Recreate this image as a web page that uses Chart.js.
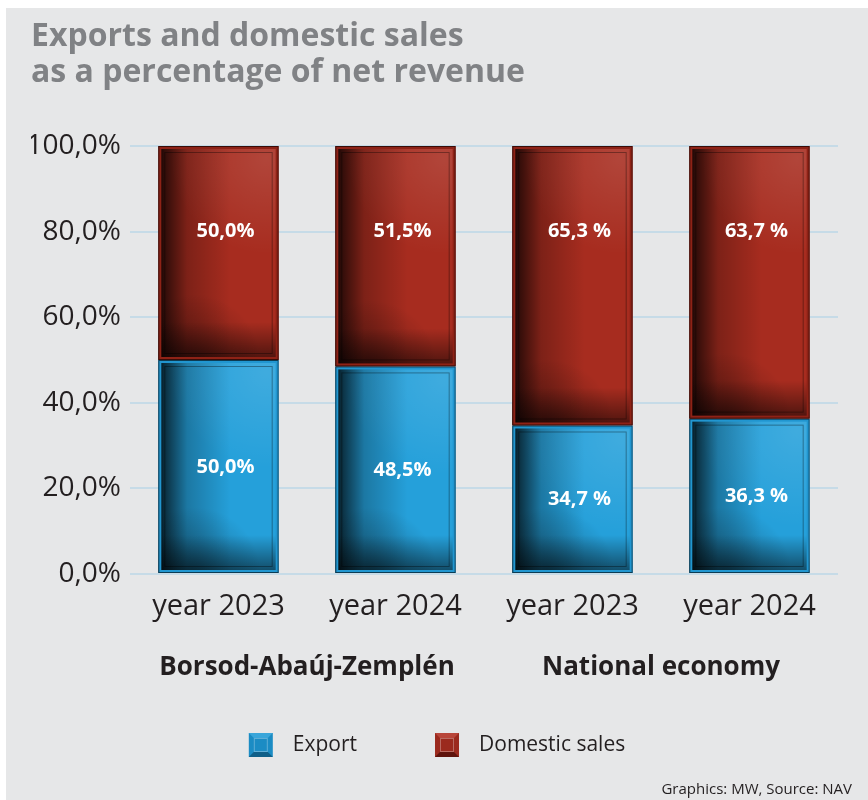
<!DOCTYPE html>
<html>
<head>
<meta charset="utf-8">
<script src="https://cdn.jsdelivr.net/npm/chart.js@4/dist/chart.umd.min.js"></script>
<style>
    html, body { margin: 0; padding: 0; background: #ffffff; }
    #panel { position: absolute; left: 6px; top: 8px; width: 862px; height: 792px; background: #e6e7e8; }
    canvas { display: block; }
</style>
</head>
<body>
<div id="panel"><canvas id="shareChart" width="862" height="792"></canvas></div>
<script>
const categories = ['year 2023', 'year 2024', 'year 2023', 'year 2024'];
const groups = ['Borsod-Abaúj-Zemplén', 'National economy'];
const exportShare = [50.0, 48.5, 34.7, 36.3];
const domesticShare = [50.0, 51.5, 65.3, 63.7];
const exportLabels = ['50,0%', '48,5%', '34,7 %', '36,3 %'];
const domesticLabels = ['50,0%', '51,5%', '65,3 %', '63,7 %'];
const yTickLabels = ['0,0%', '20,0%', '40,0%', '60,0%', '80,0%', '100,0%'];

const FONT = "'Open Sans', 'Noto Sans', sans-serif";
const TEXT = '#231f20';

// bevelled square used in the legend
function drawSwatch(ctx, x, y, s, fill, light, dark) {
    const k = 5;
    ctx.fillStyle = fill;
    ctx.fillRect(x, y, s, s);
    ctx.fillStyle = light;
    ctx.beginPath(); ctx.moveTo(x, y); ctx.lineTo(x + s, y); ctx.lineTo(x + s - k, y + k); ctx.lineTo(x + k, y + k); ctx.fill();
    ctx.fillStyle = dark;
    ctx.beginPath(); ctx.moveTo(x, y + s); ctx.lineTo(x + s, y + s); ctx.lineTo(x + s - k, y + s - k); ctx.lineTo(x + k, y + s - k); ctx.fill();
    ctx.strokeStyle = 'rgba(255,255,255,0.3)';
    ctx.lineWidth = 1;
    ctx.strokeRect(x + k + 0.5, y + k + 0.5, s - 2 * k - 1, s - 2 * k - 1);
}

const bevelPlugin = {
    id: 'bevel',
    afterDatasetsDraw(chart) {
        const ctx = chart.ctx;
        const yScale = chart.scales.y;
        chart.data.datasets.forEach((ds, di) => {
            chart.getDatasetMeta(di).data.forEach((bar, i) => {
                const p = bar.getProps(['x', 'y', 'base', 'width'], true);
                const l = p.x - p.width / 2, r = p.x + p.width / 2;
                const t = Math.min(p.y, p.base), b = Math.max(p.y, p.base);
                const w = r - l, h = b - t;
                ctx.save();
                ctx.beginPath();
                ctx.rect(l, t, w, h);
                ctx.clip();
                // dark left side
                let g = ctx.createLinearGradient(l, 0, l + w * 0.6, 0);
                g.addColorStop(0, 'rgba(0,0,0,0.9)');
                g.addColorStop(0.08, 'rgba(0,0,0,0.72)');
                g.addColorStop(0.4, 'rgba(0,0,0,0.25)');
                g.addColorStop(1, 'rgba(0,0,0,0)');
                ctx.fillStyle = g;
                ctx.fillRect(l, t, w, h);
                // dark bottom, heavier on the left
                g = ctx.createLinearGradient(0, b - 38, 0, b);
                g.addColorStop(0, 'rgba(0,0,0,0)');
                g.addColorStop(1, 'rgba(0,0,0,0.55)');
                ctx.fillStyle = g;
                ctx.fillRect(l, b - 38, w, 38);
                g = ctx.createRadialGradient(l + w * 0.3, b, 0, l + w * 0.3, b, w * 0.55);
                g.addColorStop(0, 'rgba(0,0,0,0.35)');
                g.addColorStop(1, 'rgba(0,0,0,0)');
                ctx.fillStyle = g;
                ctx.fillRect(l, t, w, h);
                // light top right
                g = ctx.createRadialGradient(r - 12, t + 12, 0, r - 12, t + 12, w * 0.8);
                g.addColorStop(0, 'rgba(255,255,255,0.12)');
                g.addColorStop(1, 'rgba(255,255,255,0)');
                ctx.fillStyle = g;
                ctx.fillRect(l, t, w, h);
                // frame
                ctx.strokeStyle = ds.edgeColor;
                ctx.lineWidth = 3;
                ctx.strokeRect(l + 1.5, t + 1.5, w - 3, h - 3);
                ctx.strokeStyle = 'rgba(0,0,0,0.6)';
                ctx.lineWidth = 1;
                ctx.strokeRect(l + 0.5, t + 0.5, w - 1, h - 1);
                ctx.strokeStyle = 'rgba(0,0,0,0.35)';
                ctx.strokeRect(l + 6.5, t + 6.5, w - 13, h - 13);
                ctx.restore();

                // value label
                const start = di === 0 ? 0 : exportShare[i];
                const val = ds.data[i];
                const at = di === 0 ? Math.min(30, start + val / 2) : start + val - 20;
                ctx.save();
                ctx.fillStyle = '#ffffff';
                ctx.font = 'bold 20px ' + FONT;
                ctx.textAlign = 'center';
                ctx.textBaseline = 'middle';
                ctx.fillText(ds.valueLabels[i], p.x + 7, yScale.getPixelForValue(at));
                ctx.restore();
            });
        });
    }
};

// legend drawn in the space kept free above the source line
const legendPlugin = {
    id: 'bevelLegend',
    afterDraw(chart) {
        const ctx = chart.ctx;
        const cy = chart.scales.x2.bottom + 49;
        const box = 24, gapText = 20, gapItem = 78;
        ctx.save();
        ctx.font = '21px ' + FONT;
        const widths = chart.data.datasets.map((ds) => ctx.measureText(ds.label).width);
        const total = widths.reduce((a, v) => a + v + box + gapText, 0) + gapItem * (widths.length - 1);
        let x = chart.width / 2 - total / 2;
        chart.data.datasets.forEach((ds, i) => {
            drawSwatch(ctx, x, cy - box / 2, box, ds.swatch[0], ds.swatch[1], ds.swatch[2]);
            ctx.fillStyle = TEXT;
            ctx.textAlign = 'left';
            ctx.textBaseline = 'middle';
            ctx.fillText(ds.label, x + box + gapText, cy);
            x += box + gapText + widths[i] + gapItem;
        });
        ctx.restore();
    }
};

const ctx = document.getElementById('shareChart').getContext('2d');
window.myChart = new Chart(ctx, {
    type: 'bar',
    data: {
        labels: categories,
        datasets: [
            {
                label: 'Export',
                data: exportShare,
                valueLabels: exportLabels,
                backgroundColor: '#25a0da',
                edgeColor: '#2196d0',
                swatch: ['#1b8cc4', '#3aa6da', '#0f5f88'],
                borderWidth: 0,
            },
            {
                label: 'Domestic sales',
                data: domesticShare,
                valueLabels: domesticLabels,
                backgroundColor: '#a72c1f',
                edgeColor: '#8e2216',
                swatch: ['#9b2a1e', '#b8463a', '#5e130c'],
                borderWidth: 0,
            },
        ],
    },
    options: {
        responsive: false,
        animation: false,
        devicePixelRatio: 1,
        layout: { padding: { left: 25, right: 16, top: 0, bottom: 1.5 } },
        datasets: { bar: { barPercentage: 0.68, categoryPercentage: 1 } },
        scales: {
            x: {
                stacked: true,
                weight: 0,
                grid: { display: false, drawTicks: false },
                border: { display: false },
                ticks: { color: TEXT, font: { family: FONT, size: 29 }, padding: 15 },
            },
            x2: {
                type: 'category',
                labels: groups,
                position: 'bottom',
                offset: true,
                weight: 1,
                grid: { display: false, drawTicks: false },
                border: { display: false },
                ticks: { color: TEXT, font: { family: FONT, size: 26, weight: 'bold' }, padding: 13 },
            },
            y: {
                stacked: true,
                min: 0,
                max: 100,
                ticks: {
                    stepSize: 20,
                    color: TEXT,
                    font: { family: FONT, size: 28 },
                    padding: 9,
                    callback: (v, i) => yTickLabels[i],
                },
                grid: { color: '#c6dbe7', lineWidth: 2, drawTicks: false },
                border: { display: false },
                afterFit(s) { s.width = 99; },
            },
            yPad: {
                position: 'right',
                display: true,
                grid: { display: false },
                border: { display: false },
                ticks: { display: false },
                afterFit(s) { s.width = 14; },
            },
        },
        plugins: {
            title: {
                display: true,
                align: 'start',
                text: ['Exports and domestic sales', 'as a percentage of net revenue'],
                color: '#808285',
                font: { family: FONT, size: 32, weight: 'bold', lineHeight: 1.125 },
                padding: { top: 11, bottom: 55 },
            },
            subtitle: {
                display: true,
                position: 'bottom',
                align: 'end',
                text: 'Graphics: MW, Source: NAV',
                color: TEXT,
                font: { family: FONT, size: 15 },
                padding: { top: 84.5, bottom: 0 },
            },
            legend: { display: false },
            tooltip: { enabled: false },
        },
    },
    plugins: [bevelPlugin, legendPlugin],
});
</script>
</body>
</html>
